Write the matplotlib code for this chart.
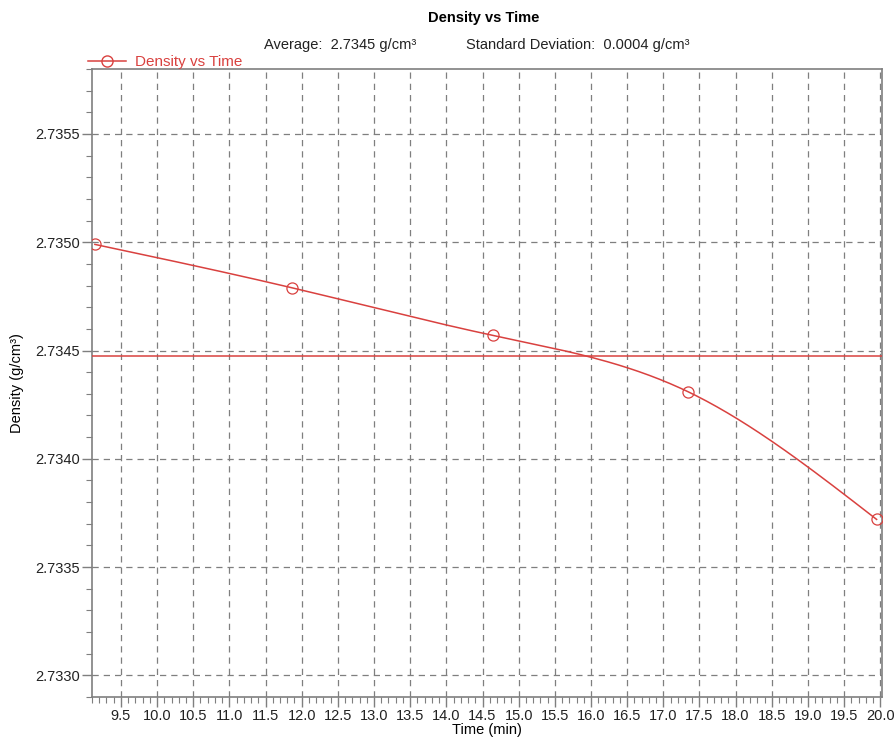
import numpy as np
import matplotlib.pyplot as plt
from matplotlib.ticker import MultipleLocator, FormatStrFormatter

plt.rcParams['font.family'] = ['Liberation Sans', 'DejaVu Sans']

# Data
time_min = [9.14, 11.86, 14.64, 17.34, 19.95]
density = [2.73499, 2.73479, 2.73457, 2.73431, 2.73372]

avg_label = 'Average:  2.7345 g/cm³'
std_label = 'Standard Deviation:  0.0004 g/cm³'

red = '#d9413f'
grey = '#7f7f7f'


def natural_spline(x, y, n=300):
    x = np.asarray(x, float)
    y = np.asarray(y, float)
    k = len(x)
    h = np.diff(x)
    A = np.zeros((k, k))
    b = np.zeros(k)
    A[0, 0] = A[-1, -1] = 1
    for i in range(1, k - 1):
        A[i, i - 1] = h[i - 1]
        A[i, i] = 2 * (h[i - 1] + h[i])
        A[i, i + 1] = h[i]
        b[i] = 3 * ((y[i + 1] - y[i]) / h[i] - (y[i] - y[i - 1]) / h[i - 1])
    c = np.linalg.solve(A, b)
    xs = np.linspace(x[0], x[-1], n)
    ys = np.empty_like(xs)
    for j, xv in enumerate(xs):
        i = min(np.searchsorted(x, xv, side='right') - 1, k - 2)
        dx = xv - x[i]
        bb = (y[i + 1] - y[i]) / h[i] - h[i] * (2 * c[i] + c[i + 1]) / 3
        d = (c[i + 1] - c[i]) / (3 * h[i])
        ys[j] = y[i] + bb * dx + c[i] * dx ** 2 + d * dx ** 3
    return xs, ys


fig = plt.figure(figsize=(8.96, 7.38), dpi=100)
ax = fig.add_axes([0.1027, 0.0556, 0.8813, 0.8509])

xs, ys = natural_spline(time_min, density)
ax.plot(xs, ys, color=red, lw=1.1, zorder=3)
ax.plot(time_min, density, 'o', mfc='none', mec=red, ms=8, mew=0.9, zorder=4)
ax.axhline(np.mean(density), color=red, lw=1.1, zorder=3)

ax.set_xlim(time_min[0] - 0.04, 20.0 + 0.02)
ax.set_ylim(2.73290, 2.73580)

ax.xaxis.set_major_locator(MultipleLocator(0.5))
ax.xaxis.set_minor_locator(MultipleLocator(0.1))
ax.yaxis.set_major_locator(MultipleLocator(0.0005))
ax.yaxis.set_minor_locator(MultipleLocator(0.0001))
ax.xaxis.set_major_formatter(FormatStrFormatter('%.1f'))
ax.yaxis.set_major_formatter(FormatStrFormatter('%.4f'))

ax.grid(True, which='major', color=grey, ls=(0, (5, 4)), lw=0.9)
ax.tick_params(which='major', length=7, width=1, color=grey, labelsize=10.5, labelcolor='#222222', pad=2)
ax.tick_params(which='minor', length=4, width=0.8, color=grey)
for s in ax.spines.values():
    s.set_color(grey)
    s.set_linewidth(1.2)

ax.set_xlabel('Time (min)', fontsize=10.5, labelpad=0)
ax.set_ylabel('Density (g/cm³)', fontsize=10.5, labelpad=8)

fig.text(0.54, 0.975, 'Density vs Time', ha='center', va='center', fontsize=10.5, fontweight='bold')
fig.text(0.295, 0.939, avg_label, ha='left', va='center', fontsize=10.5, color='#222222')
fig.text(0.52, 0.939, std_label, ha='left', va='center', fontsize=10.5, color='#222222')

ax.plot([], [], '-o', color=red, mfc='none', mec=red, ms=8, lw=1.1, label='Density vs Time')
leg = ax.legend(loc='lower left', bbox_to_anchor=(-0.015, 0.988), frameon=False,
                fontsize=11, handlelength=2.5, borderpad=0, handletextpad=0.6)
for t in leg.get_texts():
    t.set_color(red)

fig.savefig('out.png', dpi=100)
